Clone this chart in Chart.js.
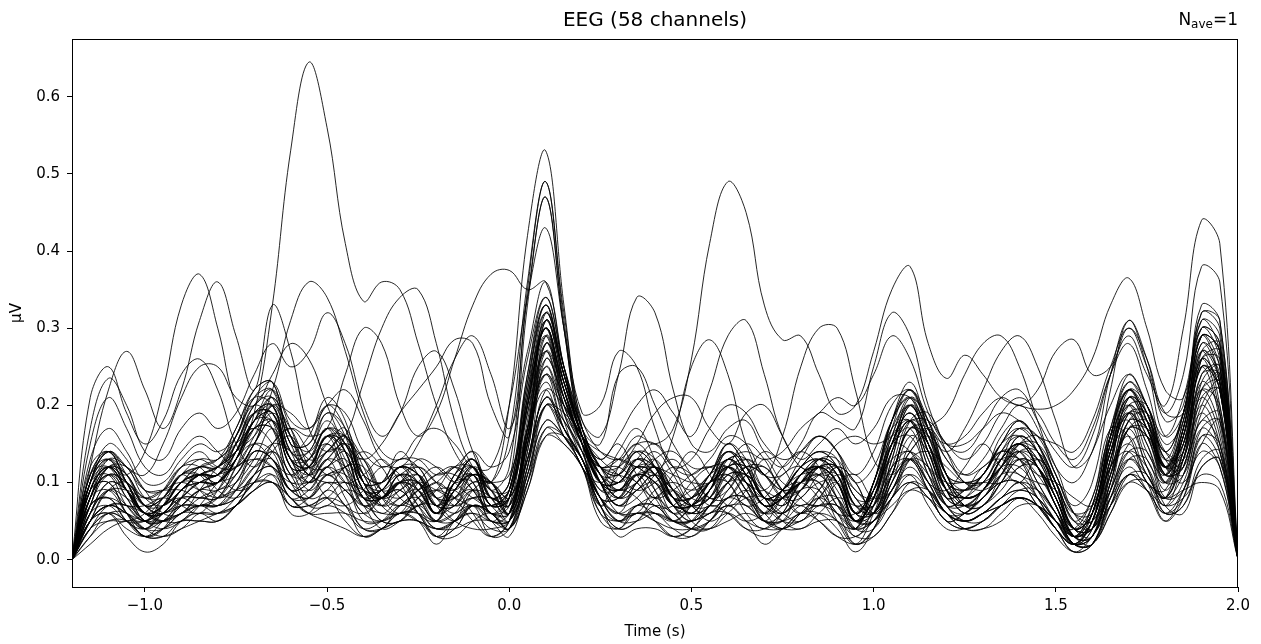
<!DOCTYPE html>
<html>
<head>
<meta charset="utf-8">
<title>EEG (58 channels)</title>
<script src="https://cdn.jsdelivr.net/npm/chart.js@4.4.1/dist/chart.umd.min.js"></script>
<style>
  html, body { margin: 0; padding: 0; background: #fff; }
  #wrap { width: 1261px; height: 644px; }
</style>
</head>
<body>
<div id="wrap"><canvas id="eegChart" width="1261" height="644"></canvas></div>
<script>
// Time axis (s), one sample every 50 ms
const times = [-1.2, -1.15, -1.1, -1.05, -1.0, -0.95, -0.9, -0.85, -0.8, -0.75, -0.7, -0.65, -0.6, -0.55, -0.5, -0.45, -0.4, -0.35, -0.3, -0.25, -0.2, -0.15, -0.1, -0.05, 0.0, 0.05, 0.1, 0.15, 0.2, 0.25, 0.3, 0.35, 0.4, 0.45, 0.5, 0.55, 0.6, 0.65, 0.7, 0.75, 0.8, 0.85, 0.9, 0.95, 1.0, 1.05, 1.1, 1.15, 1.2, 1.25, 1.3, 1.35, 1.4, 1.45, 1.5, 1.55, 1.6, 1.65, 1.7, 1.75, 1.8, 1.85, 1.9, 1.95, 2.0];
const xTicks = [-1.0, -0.5, 0.0, 0.5, 1.0, 1.5, 2.0];
const yTicks = [0.0, 0.1, 0.2, 0.3, 0.4, 0.5, 0.6];
const chartTitle = 'EEG (58 channels)';
const nAve = 1;

// Channel traces (µV)
const ch01 = [0.00, 0.06, 0.09, 0.07, 0.05, 0.07, 0.10, 0.11, 0.10, 0.13, 0.19, 0.33, 0.53, 0.645, 0.56, 0.41, 0.335, 0.36, 0.35, 0.28, 0.20, 0.14, 0.11, 0.10, 0.11, 0.20, 0.30, 0.22, 0.15, 0.12, 0.13, 0.16, 0.15, 0.17, 0.26, 0.41, 0.49, 0.45, 0.33, 0.285, 0.29, 0.24, 0.19, 0.20, 0.27, 0.35, 0.38, 0.28, 0.235, 0.265, 0.24, 0.21, 0.20, 0.195, 0.20, 0.22, 0.26, 0.33, 0.365, 0.30, 0.22, 0.21, 0.32, 0.31, 0.00];
const ch02 = [0.00, 0.08, 0.12, 0.11, 0.14, 0.22, 0.33, 0.37, 0.30, 0.20, 0.17, 0.22, 0.31, 0.36, 0.34, 0.27, 0.19, 0.14, 0.13, 0.16, 0.17, 0.15, 0.12, 0.12, 0.20, 0.34, 0.43, 0.30, 0.18, 0.16, 0.24, 0.34, 0.32, 0.22, 0.15, 0.14, 0.17, 0.18, 0.14, 0.12, 0.15, 0.19, 0.18, 0.17, 0.25, 0.32, 0.29, 0.20, 0.15, 0.14, 0.17, 0.21, 0.22, 0.18, 0.14, 0.12, 0.16, 0.24, 0.29, 0.24, 0.20, 0.30, 0.44, 0.41, 0.00];
const ch03 = [0.00, 0.12, 0.22, 0.27, 0.22, 0.17, 0.22, 0.31, 0.36, 0.29, 0.22, 0.33, 0.27, 0.17, 0.14, 0.16, 0.23, 0.30, 0.34, 0.35, 0.28, 0.18, 0.12, 0.10, 0.16, 0.36, 0.49, 0.32, 0.19, 0.20, 0.27, 0.25, 0.17, 0.12, 0.13, 0.17, 0.20, 0.19, 0.15, 0.13, 0.14, 0.16, 0.14, 0.11, 0.14, 0.20, 0.22, 0.17, 0.14, 0.17, 0.22, 0.27, 0.29, 0.25, 0.18, 0.12, 0.14, 0.24, 0.31, 0.26, 0.18, 0.20, 0.33, 0.31, 0.00];
const ch04 = [0.00, 0.21, 0.25, 0.19, 0.15, 0.18, 0.24, 0.26, 0.22, 0.15, 0.12, 0.15, 0.17, 0.16, 0.17, 0.24, 0.30, 0.28, 0.20, 0.16, 0.19, 0.26, 0.33, 0.37, 0.375, 0.35, 0.36, 0.25, 0.16, 0.12, 0.13, 0.12, 0.11, 0.16, 0.25, 0.285, 0.24, 0.15, 0.11, 0.16, 0.25, 0.30, 0.30, 0.22, 0.13, 0.11, 0.14, 0.17, 0.19, 0.24, 0.28, 0.29, 0.25, 0.18, 0.12, 0.10, 0.14, 0.20, 0.24, 0.20, 0.16, 0.21, 0.30, 0.28, 0.00];
const ch05 = [0.00, 0.17, 0.235, 0.20, 0.14, 0.13, 0.17, 0.19, 0.17, 0.19, 0.24, 0.28, 0.25, 0.27, 0.32, 0.28, 0.20, 0.16, 0.19, 0.25, 0.27, 0.22, 0.14, 0.10, 0.20, 0.42, 0.53, 0.33, 0.17, 0.13, 0.16, 0.20, 0.22, 0.19, 0.16, 0.22, 0.29, 0.31, 0.24, 0.16, 0.13, 0.15, 0.17, 0.15, 0.17, 0.21, 0.21, 0.17, 0.15, 0.16, 0.19, 0.21, 0.20, 0.22, 0.27, 0.285, 0.24, 0.25, 0.30, 0.26, 0.19, 0.19, 0.29, 0.27, 0.00];
const ch06 = [0.00, 0.10, 0.14, 0.12, 0.11, 0.15, 0.21, 0.25, 0.25, 0.21, 0.20, 0.24, 0.28, 0.26, 0.20, 0.15, 0.13, 0.15, 0.19, 0.22, 0.25, 0.285, 0.28, 0.20, 0.16, 0.34, 0.47, 0.30, 0.17, 0.15, 0.24, 0.25, 0.20, 0.15, 0.12, 0.12, 0.13, 0.14, 0.13, 0.14, 0.17, 0.19, 0.21, 0.20, 0.24, 0.29, 0.26, 0.19, 0.15, 0.15, 0.17, 0.19, 0.18, 0.16, 0.15, 0.14, 0.18, 0.25, 0.30, 0.25, 0.19, 0.24, 0.38, 0.36, 0.00];
const ch07 = [0.00, 0.15, 0.21, 0.17, 0.12, 0.11, 0.14, 0.16, 0.14, 0.12, 0.15, 0.20, 0.19, 0.17, 0.20, 0.22, 0.18, 0.13, 0.12, 0.15, 0.20, 0.26, 0.29, 0.24, 0.17, 0.27, 0.36, 0.25, 0.17, 0.12, 0.12, 0.15, 0.19, 0.21, 0.21, 0.17, 0.15, 0.19, 0.20, 0.16, 0.12, 0.12, 0.15, 0.16, 0.15, 0.16, 0.18, 0.18, 0.15, 0.13, 0.15, 0.19, 0.21, 0.19, 0.15, 0.13, 0.17, 0.24, 0.28, 0.22, 0.15, 0.18, 0.29, 0.27, 0.00];
const ch08 = [0.00, 0.09, 0.13, 0.11, 0.08, 0.09, 0.12, 0.13, 0.12, 0.15, 0.20, 0.22, 0.16, 0.14, 0.17, 0.16, 0.11, 0.10, 0.12, 0.11, 0.08, 0.10, 0.13, 0.09, 0.12, 0.35, 0.49, 0.31, 0.16, 0.10, 0.10, 0.13, 0.12, 0.09, 0.08, 0.11, 0.14, 0.12, 0.08, 0.09, 0.12, 0.13, 0.11, 0.06, 0.10, 0.17, 0.20, 0.15, 0.10, 0.09, 0.11, 0.15, 0.17, 0.14, 0.08, 0.04, 0.06, 0.16, 0.22, 0.18, 0.12, 0.18, 0.32, 0.30, 0.00];
const ch09 = [0.00, 0.11, 0.14, 0.10, 0.06, 0.07, 0.10, 0.11, 0.10, 0.13, 0.18, 0.20, 0.13, 0.12, 0.16, 0.15, 0.09, 0.08, 0.10, 0.10, 0.07, 0.09, 0.12, 0.08, 0.10, 0.33, 0.47, 0.30, 0.15, 0.08, 0.08, 0.11, 0.10, 0.07, 0.07, 0.10, 0.13, 0.11, 0.07, 0.08, 0.11, 0.12, 0.10, 0.05, 0.08, 0.16, 0.20, 0.15, 0.09, 0.08, 0.09, 0.13, 0.15, 0.12, 0.07, 0.02, 0.05, 0.15, 0.21, 0.17, 0.11, 0.17, 0.29, 0.27, 0.00];
const ch10 = [0.00, 0.13, 0.17, 0.14, 0.10, 0.10, 0.13, 0.15, 0.14, 0.16, 0.21, 0.23, 0.18, 0.17, 0.20, 0.19, 0.14, 0.12, 0.13, 0.13, 0.11, 0.12, 0.14, 0.12, 0.14, 0.26, 0.34, 0.25, 0.18, 0.14, 0.13, 0.15, 0.15, 0.12, 0.11, 0.13, 0.16, 0.15, 0.11, 0.11, 0.14, 0.16, 0.14, 0.10, 0.12, 0.18, 0.21, 0.18, 0.13, 0.11, 0.13, 0.17, 0.20, 0.17, 0.11, 0.07, 0.10, 0.22, 0.31, 0.25, 0.16, 0.19, 0.31, 0.29, 0.00];
const ch11 = [0.00, 0.08, 0.11, 0.08, 0.05, 0.05, 0.07, 0.09, 0.10, 0.13, 0.17, 0.18, 0.12, 0.10, 0.13, 0.10, 0.11, 0.13, 0.10, 0.06, 0.05, 0.08, 0.09, 0.06, 0.06, 0.18, 0.29, 0.21, 0.15, 0.09, 0.11, 0.14, 0.12, 0.08, 0.07, 0.10, 0.12, 0.10, 0.09, 0.12, 0.14, 0.12, 0.07, 0.05, 0.08, 0.14, 0.18, 0.13, 0.07, 0.06, 0.09, 0.12, 0.14, 0.10, 0.06, 0.02, 0.04, 0.13, 0.19, 0.15, 0.09, 0.14, 0.25, 0.22, 0.00];
const ch12 = [0.00, 0.09, 0.12, 0.09, 0.06, 0.06, 0.09, 0.10, 0.10, 0.14, 0.19, 0.19, 0.12, 0.12, 0.16, 0.13, 0.07, 0.08, 0.10, 0.08, 0.05, 0.09, 0.11, 0.06, 0.08, 0.20, 0.30, 0.22, 0.15, 0.10, 0.09, 0.11, 0.10, 0.06, 0.07, 0.09, 0.12, 0.10, 0.06, 0.08, 0.10, 0.11, 0.10, 0.05, 0.08, 0.15, 0.19, 0.14, 0.08, 0.07, 0.09, 0.12, 0.14, 0.12, 0.08, 0.03, 0.05, 0.14, 0.20, 0.16, 0.11, 0.16, 0.27, 0.23, 0.00];
const ch13 = [0.00, 0.05, 0.09, 0.10, 0.07, 0.08, 0.11, 0.09, 0.07, 0.09, 0.14, 0.13, 0.09, 0.10, 0.13, 0.15, 0.11, 0.10, 0.14, 0.11, 0.07, 0.10, 0.13, 0.08, 0.06, 0.15, 0.25, 0.20, 0.16, 0.13, 0.15, 0.11, 0.08, 0.11, 0.14, 0.11, 0.07, 0.09, 0.13, 0.10, 0.09, 0.13, 0.12, 0.07, 0.09, 0.15, 0.14, 0.10, 0.09, 0.12, 0.15, 0.12, 0.10, 0.13, 0.10, 0.05, 0.08, 0.17, 0.16, 0.10, 0.09, 0.16, 0.22, 0.17, 0.00];
const ch14 = [0.00, 0.07, 0.12, 0.11, 0.07, 0.06, 0.08, 0.10, 0.11, 0.13, 0.17, 0.21, 0.16, 0.11, 0.14, 0.16, 0.10, 0.07, 0.09, 0.10, 0.07, 0.07, 0.11, 0.09, 0.06, 0.16, 0.31, 0.24, 0.16, 0.11, 0.08, 0.10, 0.12, 0.08, 0.06, 0.07, 0.12, 0.12, 0.08, 0.06, 0.09, 0.12, 0.11, 0.06, 0.06, 0.13, 0.20, 0.16, 0.10, 0.07, 0.08, 0.12, 0.16, 0.14, 0.09, 0.03, 0.03, 0.12, 0.21, 0.19, 0.11, 0.13, 0.26, 0.26, 0.00];
const ch15 = [0.00, 0.05, 0.07, 0.06, 0.04, 0.04, 0.06, 0.06, 0.06, 0.08, 0.11, 0.12, 0.08, 0.08, 0.10, 0.07, 0.06, 0.08, 0.09, 0.06, 0.03, 0.04, 0.07, 0.06, 0.04, 0.13, 0.21, 0.17, 0.13, 0.07, 0.04, 0.05, 0.08, 0.09, 0.07, 0.05, 0.06, 0.05, 0.06, 0.09, 0.10, 0.08, 0.05, 0.04, 0.06, 0.09, 0.12, 0.09, 0.06, 0.05, 0.06, 0.08, 0.09, 0.08, 0.05, 0.02, 0.03, 0.08, 0.13, 0.11, 0.07, 0.10, 0.17, 0.14, 0.00];
const ch16 = [0.00, 0.11, 0.13, 0.09, 0.06, 0.08, 0.11, 0.12, 0.12, 0.17, 0.21, 0.20, 0.13, 0.14, 0.18, 0.14, 0.08, 0.09, 0.12, 0.09, 0.06, 0.11, 0.12, 0.07, 0.09, 0.23, 0.33, 0.23, 0.16, 0.11, 0.11, 0.13, 0.11, 0.07, 0.08, 0.11, 0.14, 0.11, 0.07, 0.09, 0.12, 0.13, 0.10, 0.05, 0.10, 0.18, 0.21, 0.14, 0.09, 0.09, 0.11, 0.15, 0.16, 0.12, 0.07, 0.03, 0.07, 0.17, 0.22, 0.17, 0.12, 0.19, 0.29, 0.23, 0.00];
const ch17 = [0.00, 0.04, 0.05, 0.05, 0.06, 0.09, 0.12, 0.12, 0.09, 0.08, 0.10, 0.14, 0.16, 0.12, 0.08, 0.07, 0.09, 0.12, 0.11, 0.07, 0.04, 0.05, 0.09, 0.10, 0.06, 0.12, 0.22, 0.20, 0.16, 0.12, 0.10, 0.12, 0.14, 0.11, 0.07, 0.06, 0.09, 0.12, 0.12, 0.09, 0.07, 0.09, 0.12, 0.10, 0.06, 0.08, 0.13, 0.14, 0.12, 0.10, 0.10, 0.10, 0.12, 0.13, 0.10, 0.05, 0.05, 0.09, 0.15, 0.16, 0.12, 0.10, 0.15, 0.18, 0.00];
const ch18 = [0.00, 0.06, 0.10, 0.09, 0.06, 0.05, 0.07, 0.09, 0.09, 0.11, 0.15, 0.18, 0.13, 0.10, 0.12, 0.13, 0.09, 0.06, 0.08, 0.09, 0.06, 0.07, 0.09, 0.08, 0.05, 0.14, 0.27, 0.22, 0.15, 0.10, 0.07, 0.09, 0.10, 0.07, 0.05, 0.07, 0.10, 0.10, 0.07, 0.06, 0.08, 0.10, 0.10, 0.05, 0.05, 0.11, 0.17, 0.15, 0.09, 0.06, 0.07, 0.10, 0.13, 0.12, 0.08, 0.03, 0.03, 0.10, 0.18, 0.17, 0.11, 0.12, 0.22, 0.23, 0.00];
const ch19 = [0.00, 0.09, 0.12, 0.09, 0.05, 0.06, 0.09, 0.11, 0.11, 0.14, 0.19, 0.20, 0.13, 0.12, 0.16, 0.16, 0.12, 0.07, 0.06, 0.10, 0.12, 0.10, 0.08, 0.07, 0.09, 0.20, 0.31, 0.23, 0.16, 0.10, 0.14, 0.17, 0.13, 0.08, 0.06, 0.09, 0.11, 0.08, 0.06, 0.09, 0.13, 0.16, 0.14, 0.08, 0.08, 0.15, 0.20, 0.15, 0.09, 0.08, 0.09, 0.13, 0.15, 0.13, 0.08, 0.03, 0.05, 0.14, 0.21, 0.17, 0.12, 0.16, 0.28, 0.23, 0.00];
const ch20 = [0.00, 0.03, 0.05, 0.05, 0.03, 0.03, 0.05, 0.05, 0.05, 0.07, 0.10, 0.10, 0.07, 0.07, 0.08, 0.07, 0.04, 0.04, 0.05, 0.05, 0.03, 0.05, 0.06, 0.04, 0.04, 0.11, 0.18, 0.16, 0.12, 0.06, 0.05, 0.06, 0.05, 0.04, 0.04, 0.05, 0.07, 0.05, 0.04, 0.04, 0.05, 0.06, 0.05, 0.02, 0.04, 0.08, 0.10, 0.08, 0.05, 0.04, 0.05, 0.07, 0.08, 0.07, 0.04, 0.01, 0.03, 0.07, 0.11, 0.09, 0.06, 0.09, 0.14, 0.12, 0.00];
const ch21 = [0.00, 0.09, 0.10, 0.06, 0.03, 0.04, 0.08, 0.12, 0.13, 0.15, 0.17, 0.15, 0.10, 0.09, 0.12, 0.10, 0.05, 0.05, 0.07, 0.09, 0.10, 0.12, 0.10, 0.05, 0.06, 0.16, 0.25, 0.18, 0.12, 0.10, 0.12, 0.14, 0.09, 0.05, 0.05, 0.09, 0.13, 0.10, 0.05, 0.05, 0.09, 0.09, 0.06, 0.04, 0.10, 0.17, 0.18, 0.12, 0.07, 0.08, 0.11, 0.14, 0.13, 0.08, 0.05, 0.04, 0.08, 0.16, 0.18, 0.12, 0.08, 0.17, 0.25, 0.18, 0.00];
const ch22 = [0.00, 0.10, 0.12, 0.09, 0.06, 0.07, 0.10, 0.11, 0.11, 0.15, 0.20, 0.21, 0.14, 0.13, 0.17, 0.15, 0.09, 0.08, 0.11, 0.10, 0.06, 0.10, 0.12, 0.07, 0.08, 0.21, 0.32, 0.24, 0.16, 0.11, 0.09, 0.12, 0.11, 0.07, 0.07, 0.10, 0.14, 0.11, 0.07, 0.08, 0.11, 0.13, 0.11, 0.05, 0.08, 0.17, 0.22, 0.17, 0.10, 0.08, 0.09, 0.13, 0.15, 0.12, 0.07, 0.03, 0.05, 0.15, 0.22, 0.18, 0.12, 0.17, 0.29, 0.25, 0.00];
const ch23 = [0.00, 0.02, 0.04, 0.05, 0.05, 0.06, 0.07, 0.07, 0.08, 0.09, 0.10, 0.10, 0.08, 0.06, 0.05, 0.04, 0.03, 0.04, 0.05, 0.05, 0.04, 0.05, 0.06, 0.05, 0.05, 0.10, 0.16, 0.15, 0.12, 0.08, 0.06, 0.06, 0.06, 0.05, 0.05, 0.06, 0.07, 0.07, 0.05, 0.05, 0.06, 0.07, 0.06, 0.04, 0.05, 0.07, 0.09, 0.08, 0.06, 0.05, 0.06, 0.07, 0.08, 0.07, 0.05, 0.03, 0.04, 0.07, 0.10, 0.09, 0.07, 0.08, 0.11, 0.10, 0.00];
const ch24 = [0.00, 0.06, 0.07, 0.05, 0.05, 0.07, 0.08, 0.07, 0.08, 0.12, 0.17, 0.17, 0.12, 0.08, 0.09, 0.12, 0.12, 0.08, 0.06, 0.08, 0.09, 0.08, 0.07, 0.07, 0.08, 0.13, 0.20, 0.19, 0.16, 0.10, 0.06, 0.06, 0.09, 0.10, 0.09, 0.10, 0.12, 0.10, 0.08, 0.08, 0.10, 0.11, 0.08, 0.05, 0.06, 0.11, 0.17, 0.16, 0.11, 0.07, 0.07, 0.10, 0.14, 0.14, 0.10, 0.05, 0.04, 0.10, 0.17, 0.18, 0.13, 0.11, 0.19, 0.22, 0.00];
const ch25 = [0.00, 0.11, 0.14, 0.10, 0.06, 0.07, 0.10, 0.12, 0.12, 0.16, 0.21, 0.22, 0.14, 0.14, 0.19, 0.16, 0.09, 0.09, 0.12, 0.10, 0.06, 0.10, 0.13, 0.08, 0.09, 0.24, 0.34, 0.25, 0.16, 0.12, 0.10, 0.13, 0.12, 0.08, 0.08, 0.10, 0.15, 0.12, 0.08, 0.09, 0.12, 0.14, 0.12, 0.06, 0.09, 0.18, 0.23, 0.17, 0.11, 0.09, 0.11, 0.15, 0.18, 0.15, 0.09, 0.04, 0.06, 0.16, 0.23, 0.20, 0.14, 0.19, 0.30, 0.26, 0.00];
const ch26 = [0.00, 0.07, 0.08, 0.05, 0.03, 0.05, 0.07, 0.07, 0.07, 0.10, 0.13, 0.12, 0.07, 0.08, 0.11, 0.09, 0.07, 0.06, 0.06, 0.07, 0.09, 0.09, 0.06, 0.03, 0.05, 0.16, 0.22, 0.16, 0.13, 0.07, 0.09, 0.08, 0.05, 0.03, 0.04, 0.07, 0.10, 0.11, 0.08, 0.05, 0.04, 0.06, 0.08, 0.07, 0.07, 0.11, 0.13, 0.09, 0.05, 0.06, 0.08, 0.10, 0.10, 0.07, 0.04, 0.02, 0.05, 0.12, 0.14, 0.10, 0.08, 0.13, 0.19, 0.14, 0.00];
const ch27 = [0.00, 0.07, 0.11, 0.10, 0.07, 0.06, 0.08, 0.10, 0.11, 0.12, 0.16, 0.20, 0.15, 0.11, 0.13, 0.15, 0.10, 0.07, 0.08, 0.10, 0.07, 0.07, 0.10, 0.09, 0.06, 0.15, 0.29, 0.23, 0.16, 0.11, 0.08, 0.09, 0.11, 0.08, 0.06, 0.07, 0.11, 0.11, 0.08, 0.06, 0.09, 0.11, 0.11, 0.06, 0.06, 0.12, 0.18, 0.16, 0.10, 0.07, 0.08, 0.11, 0.14, 0.13, 0.09, 0.04, 0.03, 0.11, 0.19, 0.18, 0.12, 0.13, 0.24, 0.25, 0.00];
const ch28 = [0.00, 0.07, 0.08, 0.07, 0.07, 0.08, 0.07, 0.06, 0.09, 0.13, 0.15, 0.13, 0.11, 0.13, 0.15, 0.12, 0.08, 0.09, 0.12, 0.12, 0.08, 0.07, 0.08, 0.07, 0.09, 0.19, 0.27, 0.19, 0.14, 0.12, 0.12, 0.10, 0.08, 0.09, 0.11, 0.12, 0.10, 0.07, 0.08, 0.11, 0.12, 0.09, 0.06, 0.06, 0.09, 0.13, 0.14, 0.12, 0.10, 0.10, 0.10, 0.12, 0.15, 0.15, 0.11, 0.06, 0.05, 0.11, 0.17, 0.16, 0.12, 0.15, 0.22, 0.20, 0.00];
const ch29 = [0.00, 0.10, 0.13, 0.09, 0.05, 0.05, 0.08, 0.10, 0.10, 0.13, 0.17, 0.17, 0.11, 0.11, 0.15, 0.11, 0.08, 0.10, 0.13, 0.12, 0.08, 0.06, 0.08, 0.08, 0.07, 0.17, 0.28, 0.21, 0.15, 0.10, 0.07, 0.08, 0.11, 0.13, 0.10, 0.07, 0.08, 0.11, 0.12, 0.09, 0.06, 0.08, 0.11, 0.09, 0.07, 0.14, 0.18, 0.14, 0.08, 0.07, 0.08, 0.11, 0.13, 0.11, 0.07, 0.02, 0.04, 0.13, 0.19, 0.16, 0.10, 0.15, 0.26, 0.22, 0.00];
const ch30 = [0.00, 0.04, 0.07, 0.07, 0.05, 0.04, 0.05, 0.07, 0.07, 0.08, 0.11, 0.14, 0.10, 0.07, 0.08, 0.10, 0.07, 0.04, 0.05, 0.07, 0.05, 0.05, 0.07, 0.06, 0.04, 0.10, 0.20, 0.18, 0.13, 0.08, 0.05, 0.07, 0.08, 0.06, 0.04, 0.05, 0.08, 0.08, 0.06, 0.04, 0.06, 0.08, 0.08, 0.04, 0.04, 0.08, 0.13, 0.12, 0.07, 0.05, 0.06, 0.08, 0.10, 0.09, 0.06, 0.02, 0.02, 0.08, 0.14, 0.14, 0.08, 0.09, 0.17, 0.18, 0.00];
const ch31 = [0.00, 0.09, 0.12, 0.10, 0.06, 0.07, 0.09, 0.11, 0.11, 0.14, 0.19, 0.20, 0.13, 0.13, 0.17, 0.14, 0.08, 0.08, 0.11, 0.09, 0.06, 0.09, 0.12, 0.07, 0.08, 0.20, 0.30, 0.22, 0.16, 0.10, 0.09, 0.12, 0.11, 0.07, 0.07, 0.09, 0.13, 0.11, 0.07, 0.08, 0.11, 0.12, 0.10, 0.05, 0.08, 0.15, 0.19, 0.15, 0.09, 0.08, 0.09, 0.13, 0.15, 0.13, 0.08, 0.04, 0.07, 0.17, 0.23, 0.19, 0.12, 0.15, 0.25, 0.22, 0.00];
const ch32 = [0.00, 0.05, 0.07, 0.07, 0.06, 0.05, 0.05, 0.07, 0.10, 0.12, 0.13, 0.12, 0.10, 0.10, 0.11, 0.09, 0.07, 0.08, 0.09, 0.06, 0.03, 0.04, 0.07, 0.06, 0.04, 0.11, 0.20, 0.17, 0.13, 0.07, 0.04, 0.05, 0.07, 0.06, 0.04, 0.04, 0.07, 0.09, 0.07, 0.05, 0.05, 0.07, 0.07, 0.05, 0.05, 0.09, 0.13, 0.11, 0.07, 0.05, 0.05, 0.07, 0.09, 0.09, 0.06, 0.02, 0.02, 0.07, 0.13, 0.13, 0.07, 0.06, 0.12, 0.13, 0.00];
const ch33 = [0.00, 0.10, 0.11, 0.07, 0.05, 0.07, 0.10, 0.10, 0.10, 0.15, 0.19, 0.17, 0.10, 0.12, 0.16, 0.11, 0.06, 0.08, 0.10, 0.07, 0.05, 0.10, 0.10, 0.05, 0.08, 0.21, 0.29, 0.19, 0.14, 0.09, 0.09, 0.11, 0.08, 0.05, 0.07, 0.10, 0.11, 0.08, 0.05, 0.08, 0.10, 0.10, 0.07, 0.04, 0.09, 0.15, 0.17, 0.11, 0.07, 0.08, 0.10, 0.13, 0.13, 0.09, 0.05, 0.02, 0.06, 0.15, 0.19, 0.13, 0.10, 0.17, 0.26, 0.19, 0.00];
const ch34 = [0.00, 0.08, 0.11, 0.10, 0.08, 0.08, 0.10, 0.12, 0.11, 0.09, 0.10, 0.15, 0.17, 0.14, 0.11, 0.12, 0.14, 0.12, 0.08, 0.07, 0.09, 0.12, 0.12, 0.09, 0.09, 0.17, 0.24, 0.20, 0.16, 0.13, 0.11, 0.09, 0.10, 0.12, 0.11, 0.08, 0.08, 0.11, 0.14, 0.12, 0.08, 0.07, 0.10, 0.11, 0.08, 0.09, 0.15, 0.17, 0.14, 0.11, 0.12, 0.14, 0.13, 0.11, 0.10, 0.08, 0.07, 0.11, 0.17, 0.17, 0.14, 0.13, 0.18, 0.19, 0.00];
const ch35 = [0.00, 0.12, 0.14, 0.10, 0.07, 0.08, 0.11, 0.12, 0.13, 0.17, 0.22, 0.23, 0.15, 0.15, 0.20, 0.17, 0.10, 0.10, 0.12, 0.11, 0.07, 0.11, 0.13, 0.08, 0.10, 0.24, 0.33, 0.24, 0.17, 0.12, 0.11, 0.14, 0.12, 0.08, 0.09, 0.11, 0.15, 0.12, 0.08, 0.09, 0.12, 0.14, 0.12, 0.06, 0.10, 0.18, 0.22, 0.17, 0.11, 0.10, 0.11, 0.16, 0.18, 0.15, 0.10, 0.04, 0.06, 0.16, 0.22, 0.19, 0.13, 0.19, 0.31, 0.27, 0.00];
const ch36 = [0.00, 0.03, 0.06, 0.05, 0.03, 0.03, 0.04, 0.05, 0.06, 0.07, 0.09, 0.11, 0.08, 0.06, 0.07, 0.06, 0.04, 0.05, 0.07, 0.06, 0.03, 0.03, 0.05, 0.06, 0.04, 0.09, 0.17, 0.16, 0.12, 0.07, 0.03, 0.04, 0.04, 0.03, 0.04, 0.06, 0.06, 0.04, 0.03, 0.04, 0.06, 0.05, 0.03, 0.02, 0.03, 0.06, 0.10, 0.09, 0.06, 0.04, 0.04, 0.06, 0.08, 0.07, 0.05, 0.02, 0.02, 0.06, 0.11, 0.11, 0.06, 0.07, 0.13, 0.14, 0.00];
const ch37 = [0.00, 0.05, 0.06, 0.04, 0.03, 0.04, 0.06, 0.07, 0.06, 0.07, 0.11, 0.14, 0.11, 0.07, 0.07, 0.09, 0.08, 0.05, 0.05, 0.07, 0.07, 0.05, 0.04, 0.04, 0.05, 0.13, 0.21, 0.18, 0.14, 0.08, 0.05, 0.06, 0.06, 0.04, 0.03, 0.05, 0.08, 0.08, 0.05, 0.04, 0.06, 0.08, 0.06, 0.02, 0.04, 0.10, 0.13, 0.10, 0.06, 0.05, 0.06, 0.07, 0.08, 0.07, 0.04, 0.02, 0.03, 0.09, 0.13, 0.10, 0.05, 0.08, 0.16, 0.15, 0.00];
const ch38 = [0.00, 0.08, 0.11, 0.09, 0.06, 0.06, 0.09, 0.10, 0.10, 0.13, 0.18, 0.19, 0.12, 0.12, 0.16, 0.14, 0.08, 0.08, 0.10, 0.09, 0.06, 0.09, 0.11, 0.07, 0.08, 0.22, 0.33, 0.24, 0.16, 0.10, 0.09, 0.11, 0.10, 0.07, 0.07, 0.09, 0.13, 0.10, 0.07, 0.08, 0.10, 0.12, 0.10, 0.05, 0.08, 0.15, 0.19, 0.14, 0.09, 0.08, 0.09, 0.12, 0.15, 0.12, 0.08, 0.03, 0.05, 0.14, 0.20, 0.17, 0.11, 0.16, 0.27, 0.24, 0.00];
const ch39 = [0.00, 0.10, 0.14, 0.12, 0.09, 0.09, 0.09, 0.08, 0.09, 0.13, 0.18, 0.18, 0.13, 0.11, 0.14, 0.14, 0.10, 0.08, 0.07, 0.09, 0.11, 0.11, 0.09, 0.06, 0.07, 0.20, 0.30, 0.21, 0.15, 0.12, 0.11, 0.10, 0.07, 0.07, 0.10, 0.12, 0.12, 0.09, 0.06, 0.07, 0.11, 0.12, 0.09, 0.05, 0.07, 0.14, 0.18, 0.13, 0.08, 0.09, 0.12, 0.13, 0.11, 0.10, 0.09, 0.06, 0.07, 0.14, 0.19, 0.15, 0.10, 0.16, 0.26, 0.22, 0.00];
const ch40 = [0.00, 0.08, 0.13, 0.12, 0.08, 0.07, 0.09, 0.11, 0.12, 0.14, 0.18, 0.22, 0.17, 0.12, 0.15, 0.17, 0.11, 0.08, 0.10, 0.11, 0.08, 0.08, 0.12, 0.10, 0.07, 0.17, 0.32, 0.25, 0.17, 0.12, 0.09, 0.11, 0.13, 0.09, 0.07, 0.08, 0.13, 0.13, 0.09, 0.07, 0.10, 0.13, 0.12, 0.07, 0.07, 0.14, 0.21, 0.18, 0.11, 0.08, 0.09, 0.13, 0.17, 0.15, 0.10, 0.04, 0.04, 0.13, 0.22, 0.20, 0.13, 0.15, 0.27, 0.28, 0.00];
const ch41 = [0.00, 0.05, 0.07, 0.06, 0.04, 0.05, 0.06, 0.07, 0.07, 0.09, 0.12, 0.13, 0.09, 0.08, 0.11, 0.11, 0.08, 0.05, 0.05, 0.08, 0.10, 0.08, 0.05, 0.03, 0.05, 0.13, 0.21, 0.17, 0.13, 0.08, 0.06, 0.10, 0.12, 0.09, 0.05, 0.04, 0.06, 0.08, 0.08, 0.06, 0.05, 0.08, 0.10, 0.06, 0.05, 0.10, 0.13, 0.10, 0.06, 0.05, 0.06, 0.08, 0.10, 0.08, 0.05, 0.02, 0.03, 0.09, 0.14, 0.12, 0.08, 0.11, 0.18, 0.15, 0.00];
const ch42 = [0.00, 0.06, 0.09, 0.09, 0.08, 0.09, 0.10, 0.09, 0.08, 0.09, 0.12, 0.15, 0.14, 0.11, 0.10, 0.10, 0.09, 0.08, 0.10, 0.12, 0.10, 0.07, 0.08, 0.08, 0.07, 0.15, 0.24, 0.19, 0.15, 0.11, 0.09, 0.10, 0.12, 0.10, 0.07, 0.07, 0.10, 0.13, 0.11, 0.08, 0.08, 0.11, 0.12, 0.08, 0.06, 0.09, 0.14, 0.16, 0.13, 0.10, 0.09, 0.11, 0.15, 0.16, 0.12, 0.06, 0.04, 0.10, 0.18, 0.19, 0.14, 0.12, 0.20, 0.23, 0.00];
const ch43 = [0.00, 0.11, 0.12, 0.08, 0.05, 0.08, 0.11, 0.11, 0.11, 0.16, 0.20, 0.18, 0.11, 0.13, 0.17, 0.12, 0.07, 0.09, 0.11, 0.08, 0.05, 0.10, 0.11, 0.06, 0.09, 0.22, 0.30, 0.20, 0.15, 0.10, 0.10, 0.12, 0.09, 0.06, 0.08, 0.11, 0.12, 0.09, 0.06, 0.09, 0.11, 0.11, 0.08, 0.04, 0.10, 0.16, 0.18, 0.12, 0.08, 0.09, 0.11, 0.14, 0.14, 0.10, 0.06, 0.03, 0.07, 0.16, 0.20, 0.14, 0.11, 0.18, 0.27, 0.20, 0.00];
const ch44 = [0.00, 0.05, 0.06, 0.03, 0.01, 0.02, 0.05, 0.06, 0.05, 0.07, 0.10, 0.11, 0.06, 0.06, 0.09, 0.07, 0.03, 0.04, 0.06, 0.05, 0.02, 0.05, 0.07, 0.03, 0.04, 0.12, 0.20, 0.16, 0.12, 0.05, 0.04, 0.06, 0.05, 0.03, 0.03, 0.05, 0.07, 0.05, 0.02, 0.04, 0.06, 0.06, 0.04, 0.01, 0.04, 0.09, 0.11, 0.07, 0.04, 0.04, 0.05, 0.07, 0.08, 0.06, 0.03, 0.01, 0.02, 0.08, 0.12, 0.09, 0.05, 0.09, 0.16, 0.13, 0.00];
const ch45 = [0.00, 0.06, 0.10, 0.09, 0.06, 0.06, 0.07, 0.09, 0.10, 0.11, 0.15, 0.18, 0.14, 0.10, 0.12, 0.14, 0.10, 0.09, 0.11, 0.12, 0.10, 0.09, 0.11, 0.10, 0.07, 0.14, 0.28, 0.22, 0.15, 0.10, 0.10, 0.13, 0.15, 0.12, 0.08, 0.08, 0.12, 0.15, 0.13, 0.09, 0.09, 0.12, 0.12, 0.07, 0.06, 0.11, 0.17, 0.15, 0.09, 0.06, 0.07, 0.10, 0.13, 0.12, 0.08, 0.03, 0.03, 0.10, 0.18, 0.17, 0.11, 0.12, 0.22, 0.24, 0.00];
const ch46 = [0.00, 0.09, 0.10, 0.06, 0.04, 0.07, 0.11, 0.11, 0.08, 0.10, 0.14, 0.13, 0.09, 0.11, 0.16, 0.15, 0.09, 0.07, 0.10, 0.10, 0.06, 0.10, 0.13, 0.09, 0.06, 0.17, 0.27, 0.20, 0.14, 0.08, 0.08, 0.12, 0.12, 0.08, 0.06, 0.09, 0.12, 0.09, 0.05, 0.06, 0.11, 0.12, 0.08, 0.03, 0.07, 0.15, 0.16, 0.11, 0.07, 0.07, 0.09, 0.12, 0.12, 0.09, 0.06, 0.03, 0.06, 0.14, 0.17, 0.12, 0.07, 0.13, 0.23, 0.19, 0.00];
const ch47 = [0.00, 0.09, 0.12, 0.09, 0.06, 0.07, 0.10, 0.11, 0.12, 0.15, 0.19, 0.19, 0.14, 0.16, 0.21, 0.18, 0.10, 0.08, 0.11, 0.10, 0.06, 0.09, 0.12, 0.08, 0.08, 0.21, 0.31, 0.23, 0.16, 0.11, 0.10, 0.13, 0.11, 0.08, 0.08, 0.10, 0.14, 0.12, 0.08, 0.08, 0.11, 0.13, 0.11, 0.06, 0.09, 0.16, 0.21, 0.16, 0.10, 0.09, 0.10, 0.14, 0.16, 0.14, 0.09, 0.04, 0.06, 0.15, 0.21, 0.18, 0.12, 0.17, 0.28, 0.25, 0.00];
const ch48 = [0.00, 0.07, 0.08, 0.05, 0.04, 0.06, 0.08, 0.08, 0.08, 0.11, 0.14, 0.13, 0.08, 0.09, 0.12, 0.08, 0.04, 0.04, 0.07, 0.08, 0.05, 0.06, 0.09, 0.07, 0.05, 0.16, 0.23, 0.17, 0.13, 0.07, 0.05, 0.07, 0.06, 0.05, 0.07, 0.10, 0.10, 0.06, 0.04, 0.06, 0.10, 0.10, 0.05, 0.02, 0.06, 0.12, 0.13, 0.09, 0.05, 0.06, 0.08, 0.10, 0.10, 0.07, 0.04, 0.02, 0.05, 0.12, 0.15, 0.11, 0.08, 0.13, 0.20, 0.15, 0.00];
const ch49 = [0.00, 0.07, 0.12, 0.12, 0.09, 0.06, 0.06, 0.09, 0.12, 0.14, 0.16, 0.19, 0.16, 0.12, 0.12, 0.15, 0.13, 0.09, 0.08, 0.10, 0.09, 0.08, 0.10, 0.10, 0.08, 0.15, 0.28, 0.23, 0.16, 0.10, 0.07, 0.09, 0.11, 0.09, 0.07, 0.08, 0.11, 0.11, 0.09, 0.08, 0.09, 0.12, 0.12, 0.08, 0.06, 0.11, 0.17, 0.17, 0.11, 0.07, 0.07, 0.11, 0.15, 0.14, 0.09, 0.04, 0.04, 0.11, 0.19, 0.19, 0.12, 0.12, 0.23, 0.25, 0.00];
const ch50 = [0.00, 0.05, 0.07, 0.06, 0.05, 0.05, 0.06, 0.07, 0.07, 0.08, 0.11, 0.12, 0.09, 0.08, 0.10, 0.09, 0.06, 0.05, 0.06, 0.06, 0.05, 0.06, 0.07, 0.05, 0.05, 0.11, 0.18, 0.16, 0.13, 0.08, 0.06, 0.07, 0.07, 0.05, 0.05, 0.06, 0.08, 0.07, 0.05, 0.05, 0.07, 0.07, 0.07, 0.04, 0.05, 0.08, 0.11, 0.09, 0.06, 0.05, 0.06, 0.08, 0.09, 0.08, 0.05, 0.03, 0.04, 0.08, 0.11, 0.10, 0.08, 0.09, 0.10, 0.09, 0.00];
const ch51 = [0.00, 0.10, 0.13, 0.10, 0.06, 0.06, 0.09, 0.11, 0.11, 0.14, 0.18, 0.19, 0.13, 0.12, 0.16, 0.14, 0.08, 0.08, 0.10, 0.09, 0.06, 0.09, 0.11, 0.07, 0.08, 0.19, 0.30, 0.22, 0.15, 0.10, 0.08, 0.11, 0.11, 0.07, 0.06, 0.09, 0.13, 0.11, 0.07, 0.08, 0.10, 0.12, 0.10, 0.05, 0.08, 0.15, 0.20, 0.15, 0.09, 0.07, 0.09, 0.13, 0.15, 0.12, 0.07, 0.03, 0.06, 0.16, 0.22, 0.18, 0.10, 0.14, 0.25, 0.23, 0.00];
const ch52 = [0.00, 0.05, 0.09, 0.08, 0.06, 0.05, 0.06, 0.08, 0.09, 0.10, 0.13, 0.17, 0.13, 0.09, 0.11, 0.12, 0.13, 0.09, 0.07, 0.09, 0.11, 0.12, 0.09, 0.06, 0.05, 0.12, 0.26, 0.21, 0.15, 0.10, 0.07, 0.10, 0.13, 0.14, 0.11, 0.08, 0.09, 0.12, 0.11, 0.08, 0.06, 0.09, 0.12, 0.10, 0.06, 0.10, 0.16, 0.14, 0.09, 0.06, 0.07, 0.09, 0.12, 0.12, 0.07, 0.03, 0.02, 0.09, 0.17, 0.16, 0.10, 0.11, 0.21, 0.22, 0.00];
const ch53 = [0.00, 0.10, 0.14, 0.11, 0.07, 0.08, 0.11, 0.13, 0.13, 0.16, 0.22, 0.23, 0.15, 0.15, 0.19, 0.17, 0.10, 0.10, 0.12, 0.11, 0.07, 0.11, 0.14, 0.08, 0.10, 0.23, 0.32, 0.24, 0.17, 0.12, 0.11, 0.14, 0.13, 0.08, 0.08, 0.11, 0.15, 0.13, 0.08, 0.09, 0.12, 0.14, 0.13, 0.06, 0.10, 0.18, 0.22, 0.18, 0.11, 0.10, 0.11, 0.15, 0.18, 0.15, 0.10, 0.04, 0.06, 0.16, 0.24, 0.20, 0.14, 0.19, 0.30, 0.28, 0.00];
const ch54 = [0.00, 0.04, 0.06, 0.05, 0.03, 0.04, 0.05, 0.05, 0.05, 0.07, 0.09, 0.10, 0.07, 0.07, 0.08, 0.05, 0.03, 0.04, 0.06, 0.06, 0.04, 0.05, 0.07, 0.05, 0.03, 0.10, 0.17, 0.15, 0.12, 0.06, 0.04, 0.07, 0.07, 0.05, 0.05, 0.07, 0.06, 0.04, 0.04, 0.06, 0.07, 0.05, 0.03, 0.03, 0.05, 0.08, 0.10, 0.08, 0.05, 0.04, 0.05, 0.07, 0.08, 0.07, 0.04, 0.01, 0.02, 0.07, 0.11, 0.09, 0.06, 0.08, 0.15, 0.12, 0.00];
const ch55 = [0.00, 0.04, 0.06, 0.06, 0.04, 0.03, 0.04, 0.06, 0.06, 0.07, 0.09, 0.10, 0.08, 0.06, 0.06, 0.06, 0.05, 0.05, 0.06, 0.05, 0.04, 0.04, 0.05, 0.05, 0.04, 0.09, 0.16, 0.16, 0.13, 0.08, 0.05, 0.05, 0.06, 0.05, 0.04, 0.04, 0.05, 0.06, 0.05, 0.04, 0.04, 0.05, 0.05, 0.03, 0.03, 0.06, 0.09, 0.09, 0.06, 0.04, 0.04, 0.05, 0.07, 0.07, 0.05, 0.02, 0.02, 0.06, 0.10, 0.10, 0.06, 0.07, 0.12, 0.13, 0.00];
const ch56 = [0.00, 0.08, 0.12, 0.11, 0.07, 0.07, 0.09, 0.11, 0.12, 0.14, 0.18, 0.21, 0.16, 0.12, 0.14, 0.16, 0.11, 0.08, 0.09, 0.11, 0.08, 0.08, 0.11, 0.10, 0.06, 0.16, 0.31, 0.24, 0.16, 0.11, 0.08, 0.10, 0.12, 0.09, 0.07, 0.08, 0.12, 0.12, 0.09, 0.07, 0.10, 0.12, 0.12, 0.07, 0.06, 0.13, 0.20, 0.17, 0.11, 0.08, 0.09, 0.12, 0.16, 0.14, 0.09, 0.04, 0.04, 0.12, 0.21, 0.19, 0.12, 0.14, 0.26, 0.27, 0.00];
const ch57 = [0.00, 0.08, 0.09, 0.06, 0.04, 0.06, 0.08, 0.08, 0.08, 0.12, 0.15, 0.14, 0.09, 0.10, 0.13, 0.12, 0.09, 0.09, 0.12, 0.11, 0.07, 0.05, 0.07, 0.06, 0.06, 0.17, 0.24, 0.17, 0.13, 0.07, 0.12, 0.15, 0.12, 0.07, 0.05, 0.07, 0.10, 0.12, 0.11, 0.09, 0.10, 0.12, 0.10, 0.05, 0.07, 0.12, 0.14, 0.10, 0.06, 0.06, 0.08, 0.11, 0.11, 0.08, 0.04, 0.02, 0.05, 0.12, 0.16, 0.11, 0.08, 0.14, 0.21, 0.16, 0.00];
const ch58 = [0.00, 0.10, 0.15, 0.13, 0.09, 0.09, 0.12, 0.14, 0.12, 0.12, 0.15, 0.20, 0.17, 0.13, 0.14, 0.16, 0.13, 0.09, 0.10, 0.13, 0.12, 0.10, 0.11, 0.10, 0.08, 0.16, 0.26, 0.21, 0.16, 0.14, 0.13, 0.12, 0.12, 0.11, 0.10, 0.10, 0.12, 0.13, 0.11, 0.09, 0.10, 0.13, 0.13, 0.09, 0.08, 0.11, 0.18, 0.19, 0.14, 0.10, 0.10, 0.14, 0.17, 0.16, 0.11, 0.06, 0.06, 0.13, 0.20, 0.20, 0.13, 0.14, 0.24, 0.24, 0.00];

const channels = [ch01, ch02, ch03, ch04, ch05, ch06, ch07, ch08, ch09, ch10,
    ch11, ch12, ch13, ch14, ch15, ch16, ch17, ch18, ch19, ch20,
    ch21, ch22, ch23, ch24, ch25, ch26, ch27, ch28, ch29, ch30,
    ch31, ch32, ch33, ch34, ch35, ch36, ch37, ch38, ch39, ch40,
    ch41, ch42, ch43, ch44, ch45, ch46, ch47, ch48, ch49, ch50,
    ch51, ch52, ch53, ch54, ch55, ch56, ch57, ch58];

// quick sanity check on the hand-typed rows
channels.forEach((c, i) => {
    if (c.length !== times.length) throw new Error(`channel ${i + 1} has ${c.length} samples`);
});

Chart.defaults.font.family = '"DejaVu Sans", sans-serif';
Chart.defaults.color = '#000';

// Axes frame + header texts (title, N_ave)
const framePlugin = {
    id: 'frame',
    afterDraw(chart) {
        const { ctx, chartArea: a } = chart;
        ctx.save();
        ctx.strokeStyle = '#000';
        ctx.lineWidth = 1;
        ctx.strokeRect(a.left + 0.5, a.top + 0.5, a.right - a.left - 1, a.bottom - a.top);

        ctx.fillStyle = '#000';
        ctx.textBaseline = 'alphabetic';
        ctx.font = '20px "DejaVu Sans"';
        ctx.textAlign = 'center';
        ctx.fillText(chartTitle, (a.left + a.right) / 2, 26);

        // N_ave=1, right aligned on the axes
        const big = '17px "DejaVu Sans"';
        const small = '12px "DejaVu Sans"';
        ctx.textAlign = 'left';
        ctx.font = big;
        const wN = ctx.measureText('N').width;
        const wEq = ctx.measureText('=' + nAve).width;
        ctx.font = small;
        const wSub = ctx.measureText('ave').width;
        let x = a.right - (wN + wSub + wEq);
        ctx.font = big;
        ctx.fillText('N', x, 25);
        x += wN;
        ctx.font = small;
        ctx.fillText('ave', x, 28);
        x += wSub;
        ctx.font = big;
        ctx.fillText('=' + nAve, x, 25);
        ctx.restore();
    }
};

function formatTick(v) {
    const s = Math.abs(v).toFixed(1);
    return v < 0 ? '\u2212' + s : s;
}

function createChart(canvasId) {
    const ctx = document.getElementById(canvasId).getContext('2d');
    const datasets = channels.map((vals, i) => ({
        label: 'ch' + (i + 1),
        data: vals.map((v, j) => ({ x: times[j], y: v })),
        borderColor: 'rgba(0, 0, 0, 0.85)',
        borderWidth: 1,
        pointRadius: 0,
        fill: false,
        tension: 0.4,
    }));
    return new Chart(ctx, {
        type: 'line',
        data: { datasets },
        options: {
            responsive: false,
            animation: false,
            devicePixelRatio: 1,
            layout: { padding: { top: 39, right: 23, bottom: 0, left: 0 } },
            plugins: {
                legend: { display: false },
                tooltip: { enabled: false },
                title: { display: false },
            },
            scales: {
                x: {
                    type: 'linear',
                    min: -1.2,
                    max: 2.0,
                    border: { display: false },
                    grid: { display: true, drawOnChartArea: false, drawTicks: true, tickLength: 5, color: '#000' },
                    ticks: { font: { size: 15 }, padding: 5, maxRotation: 0, autoSkip: false, callback: formatTick },
                    afterBuildTicks: (scale) => { scale.ticks = xTicks.map(v => ({ value: v })); },
                    afterFit: (scale) => { scale.height = 57; },
                    title: { display: true, text: 'Time (s)', font: { size: 15 }, padding: { top: 0, bottom: 3 } },
                },
                y: {
                    type: 'linear',
                    min: -0.0355,
                    max: 0.675,
                    border: { display: false },
                    grid: { display: true, drawOnChartArea: false, drawTicks: true, tickLength: 5, color: '#000' },
                    ticks: { font: { size: 15 }, padding: 7, callback: (v) => v.toFixed(1) },
                    afterBuildTicks: (scale) => { scale.ticks = yTicks.map(v => ({ value: v })); },
                    afterFit: (scale) => { scale.width = 72; },
                    title: { display: true, text: 'µV', font: { size: 15 }, padding: { top: 8, bottom: 0 } },
                },
            },
        },
        plugins: [framePlugin],
    });
}

createChart('eegChart');
</script>
</body>
</html>
